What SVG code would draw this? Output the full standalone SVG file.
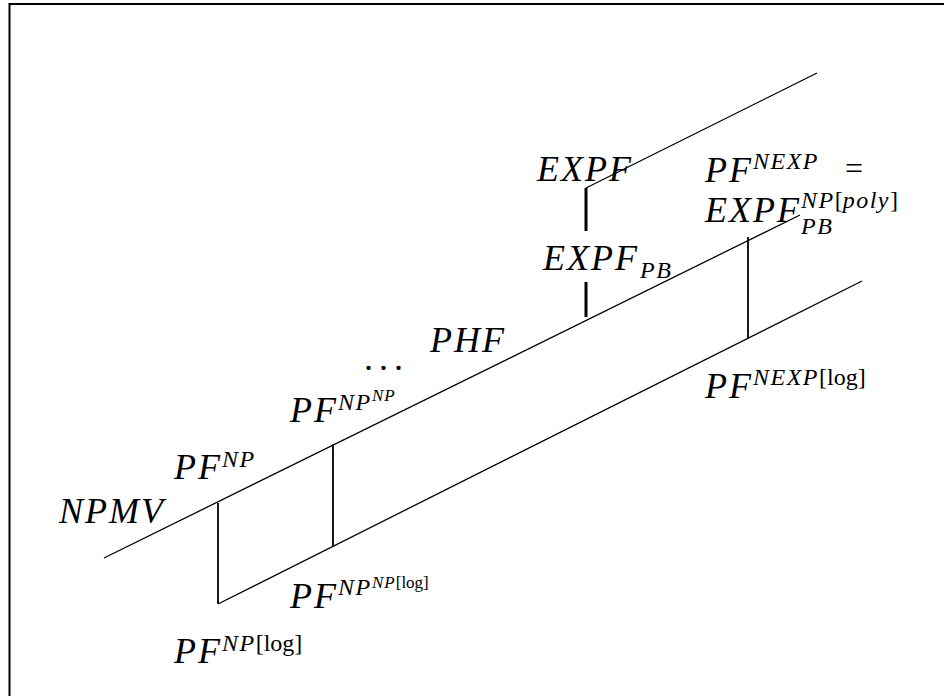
<svg xmlns="http://www.w3.org/2000/svg" width="944" height="696" viewBox="0 0 944 696">
<style>
text{font-family:"Liberation Serif","DejaVu Serif",serif;fill:#000}
.m{font-style:italic;font-size:36px;letter-spacing:2px}
.s{font-style:italic;font-size:24px;letter-spacing:1.5px}
.ss{font-style:italic;font-size:17px;letter-spacing:1px}
.u{font-style:normal;letter-spacing:0}
.ln{stroke:#000;stroke-width:1.3;fill:none}
.v{stroke:#000;stroke-width:1.8;fill:none}
.t{stroke:#000;stroke-width:3;fill:none}
</style>
<rect x="0" y="0" width="944" height="696" fill="#fff"/>
<g id="frame" stroke="#000" stroke-width="2" fill="none">
<line x1="9.5" y1="4" x2="944" y2="4"/>
<line x1="9.5" y1="3" x2="9.5" y2="696"/>
</g>
<g id="connectors">
<line class="ln" x1="104" y1="558" x2="800" y2="215"/>
<line class="ln" x1="218" y1="604" x2="862" y2="281"/>
<line class="ln" x1="586" y1="188" x2="817" y2="73"/>
<line class="v" x1="218" y1="503" x2="218" y2="604"/>
<line class="v" x1="333" y1="444" x2="333" y2="546"/>
<line class="v" x1="748" y1="237" x2="748" y2="339"/>
<line class="t" x1="586" y1="188" x2="586" y2="231"/>
<line class="t" x1="586" y1="282" x2="586" y2="317"/>
</g>
<g id="npmv"><text class="m" x="59" y="523">NPMV</text></g>
<g id="pf-np"><text class="m" x="174" y="479">PF</text><text class="s" x="222" y="467">NP</text></g>
<g id="pf-np-np"><text class="m" x="290" y="422">PF</text><text class="s" x="338" y="410">NP</text><text class="ss" x="372" y="401">NP</text></g>
<g id="dots"><text x="364" y="370" style="font-size:36px;letter-spacing:6px">...</text></g>
<g id="phf"><text class="m" x="430" y="352">PHF</text></g>
<g id="expf"><text class="m" x="537" y="181">EXPF</text></g>
<g id="pf-nexp"><text class="m"><tspan x="705" y="182">PF</tspan><tspan class="s" x="753" y="169">NEXP</tspan><tspan x="845" y="179" style="font-style:normal;font-size:32px">=</tspan><tspan x="705" y="222">EXPF</tspan><tspan class="s" x="801" y="208">NP</tspan><tspan class="s u">[</tspan><tspan class="s">poly</tspan><tspan class="s u">]</tspan><tspan class="s" x="801" y="234">PB</tspan></text></g>
<g id="expf-pb"><text class="m" x="543" y="270">EXPF</text><text class="s" x="640" y="278">PB</text></g>
<g id="pf-nexp-log"><text class="m" x="705" y="398">PF</text><text class="s" x="753" y="385">NEXP<tspan class="u">[log]</tspan></text></g>
<g id="pf-np-np-log"><text class="m" x="290" y="608">PF</text><text class="s" x="338" y="595">NP</text><text class="ss" x="372" y="588">NP<tspan class="u">[log]</tspan></text></g>
<g id="pf-np-log"><text class="m" x="174" y="663">PF</text><text class="s" x="222" y="651">NP<tspan class="u">[log]</tspan></text></g>
</svg>
